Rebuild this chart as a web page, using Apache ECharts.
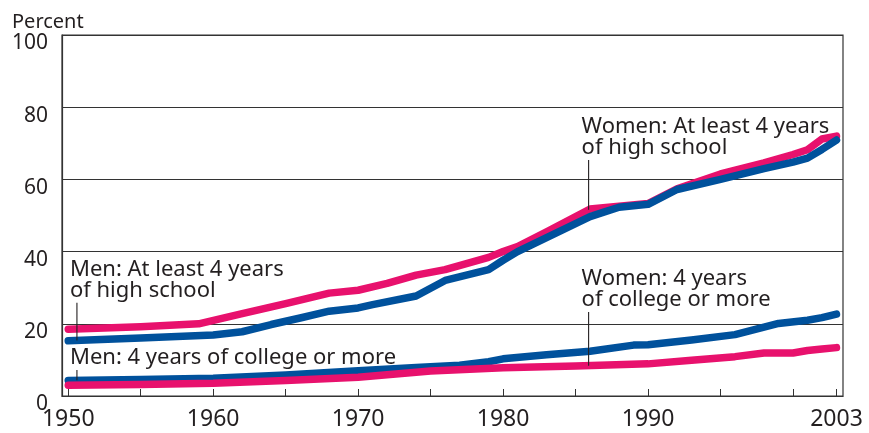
<!DOCTYPE html>
<html>
<head>
<meta charset="utf-8">
<script src="https://cdn.jsdelivr.net/npm/echarts@6/dist/echarts.min.js"></script>
<style>
  html, body { margin: 0; padding: 0; background: #fff; }
  #chart { width: 869px; height: 433px; }
</style>
</head>
<body>
<div id="chart"></div>
<script>
// Educational attainment, percent of population, 1950-2003
const hsWomenYears = [1950, 1952, 1955, 1957, 1959, 1962, 1965, 1968, 1970, 1972, 1974, 1976, 1979, 1980, 1981, 1983, 1986, 1988, 1990, 1992, 1995, 1998, 2000, 2001, 2002, 2003];
const hsWomenPct   = [18.5, 18.8, 19.2, 19.6, 20.0, 22.8, 25.6, 28.5, 29.3, 31.2, 33.5, 35.0, 38.4, 40.0, 41.4, 45.5, 51.8, 52.6, 53.3, 57.4, 61.5, 64.6, 66.9, 68.2, 71.2, 72.0];

const hsMenYears = [1950, 1955, 1960, 1962, 1964, 1966, 1968, 1970, 1971, 1974, 1976, 1979, 1980, 1981, 1986, 1987, 1988, 1990, 1992, 1995, 1998, 2000, 2001, 2002, 2003];
const hsMenPct   = [15.3, 16.1, 16.9, 17.8, 19.8, 21.6, 23.5, 24.4, 25.3, 27.7, 32.0, 35.0, 37.6, 40.0, 49.7, 51.0, 52.3, 53.1, 57.2, 60.0, 63.0, 64.8, 65.9, 68.3, 70.9];

const colMenYears = [1950, 1955, 1960, 1965, 1970, 1974, 1977, 1979, 1980, 1983, 1986, 1989, 1990, 1993, 1996, 1999, 2001, 2002, 2003];
const colMenPct   = [4.3, 4.6, 4.9, 5.8, 7.0, 7.9, 8.5, 9.5, 10.3, 11.4, 12.4, 14.1, 14.2, 15.5, 17.0, 20.1, 21.0, 21.7, 22.7];

const colWomenYears = [1950, 1955, 1960, 1965, 1970, 1975, 1980, 1985, 1990, 1993, 1996, 1998, 2000, 2001, 2002, 2003];
const colWomenPct   = [3.0, 3.2, 3.5, 4.3, 5.2, 6.9, 7.8, 8.3, 8.9, 9.9, 10.9, 11.9, 11.9, 12.6, 13.0, 13.4];

const xTickYears  = [1950, 1955, 1960, 1965, 1970, 1975, 1980, 1985, 1990, 1995, 2000, 2003];
const xLabelYears = [1950, 1960, 1970, 1980, 1990, 2003];

// Callout text, the year of each leader line and the value where its top sits
const calloutText  = ['Men: At least 4 years\nof high school', 'Men: 4 years of college or more', 'Women: At least 4 years\nof high school', 'Women: 4 years\nof college or more'];
const calloutYear  = [1950.6, 1950.6, 1985.9, 1985.9];
const calloutTop   = [25.8, 7.2, 65.4, 23.3];

const PINK = '#e8116d';
const BLUE = '#00519c';
const INK = '#231f20';
const FONT = 'Noto Sans';

const pairs = (xs, ys) => xs.map((x, i) => [x, ys[i]]);

function valueAt(xs, ys, x) {
  if (x <= xs[0]) return ys[0];
  for (let i = 1; i < xs.length; i++) {
    if (x <= xs[i]) {
      const t = (x - xs[i - 1]) / (xs[i] - xs[i - 1]);
      return ys[i - 1] + t * (ys[i] - ys[i - 1]);
    }
  }
  return ys[ys.length - 1];
}

const lineSeries = (data, color) => ({
  type: 'line',
  data: data,
  showSymbol: false,
  symbol: 'none',
  smooth: false,
  lineStyle: { color: color, width: 7.5, cap: 'round', join: 'round' },
  silent: true,
  animation: false
});

const chart = echarts.init(document.getElementById('chart'), null, { renderer: 'canvas' });

chart.setOption({
  animation: false,
  backgroundColor: '#fff',
  title: {
    text: 'Percent',
    left: 7,
    top: 7,
    textStyle: { fontFamily: FONT, fontSize: 20, fontWeight: 'normal', color: INK }
  },
  grid: {
    left: 62, right: 26, top: 35, bottom: 37,
    show: true, borderColor: '#333', borderWidth: 1.2
  },
  xAxis: {
    type: 'value',
    min: 1949.57,
    max: 2003.45,
    axisLine: { show: true, lineStyle: { color: '#333', width: 1.2 } },
    axisTick: { show: true, inside: true, length: 7, customValues: xTickYears, lineStyle: { color: '#333' } },
    axisLabel: {
      customValues: xLabelYears,
      fontFamily: FONT, fontSize: 23, color: INK, margin: 12,
      formatter: v => String(Math.round(v))
    },
    splitLine: { show: false }
  },
  yAxis: {
    type: 'value',
    min: 0, max: 100, interval: 20,
    axisLine: { show: true, lineStyle: { color: '#333', width: 1.2 } },
    axisTick: { show: false },
    axisLabel: {
      fontFamily: FONT, fontSize: 21, color: INK, margin: 14,
      verticalAlign: 'top', lineHeight: 17
    },
    splitLine: { show: true, lineStyle: { color: '#333', width: 1.2 } }
  },
  series: [
    lineSeries(pairs(colMenYears, colMenPct), BLUE),
    lineSeries(pairs(colWomenYears, colWomenPct), PINK),
    lineSeries(pairs(hsWomenYears, hsWomenPct), PINK),
    lineSeries(pairs(hsMenYears, hsMenPct), BLUE)
  ]
});

// Callouts: leader lines run from the text down to the series they name
const targets = [
  [hsMenYears, hsMenPct],
  [colMenYears, colMenPct],
  [hsWomenYears, hsWomenPct],
  [colWomenYears, colWomenPct]
];

const graphics = [];
calloutText.forEach((txt, i) => {
  const yr = calloutYear[i];
  const [xs, ys] = targets[i];
  const top = chart.convertToPixel({ gridIndex: 0 }, [yr, calloutTop[i]]);
  const end = chart.convertToPixel({ gridIndex: 0 }, [yr, valueAt(xs, ys, yr)]);
  graphics.push({
    type: 'line',
    shape: { x1: top[0], y1: top[1], x2: end[0], y2: end[1] },
    style: { stroke: INK, lineWidth: 1.1 },
    z: 100
  });
  graphics.push({
    type: 'text',
    x: top[0] - 7,
    y: top[1] - 2,
    style: {
      text: txt,
      fill: INK,
      font: '22px "' + FONT + '"',
      lineHeight: 21,
      textAlign: 'left',
      textVerticalAlign: 'bottom'
    },
    z: 100
  });
});
chart.setOption({ graphic: graphics });
</script>
</body>
</html>
